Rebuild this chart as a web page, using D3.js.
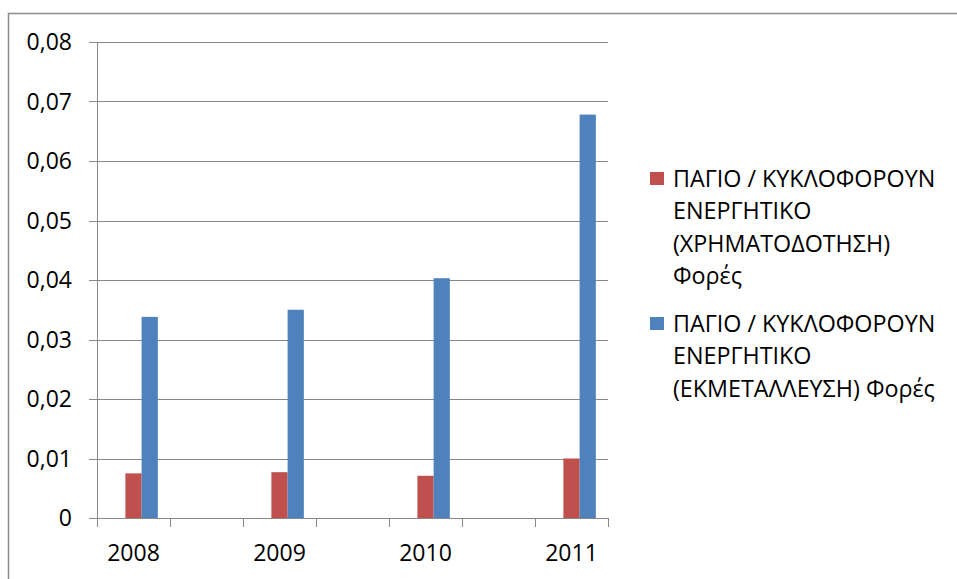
<!DOCTYPE html>
<html>
<head>
<meta charset="utf-8">
<script src="https://cdn.jsdelivr.net/npm/d3@7"></script>
<style>
  html, body { margin: 0; padding: 0; background: #fff; }
  svg { display: block; }
  text { font-family: "Open Sans", "Noto Sans", sans-serif; fill: #000; }
</style>
</head>
<body>
<svg id="chart" width="957" height="579"></svg>
<script>
// ---- data ----
const categories = ["2008", "", "2009", "", "2010", "", "2011"];
const seriesNames = [
  "ΠΑΓΙΟ / ΚΥΚΛΟΦΟΡΟΥΝ ΕΝΕΡΓΗΤΙΚΟ (ΧΡΗΜΑΤΟΔΟΤΗΣΗ) Φορές",
  "ΠΑΓΙΟ / ΚΥΚΛΟΦΟΡΟΥΝ ΕΝΕΡΓΗΤΙΚΟ (ΕΚΜΕΤΑΛΛΕΥΣΗ) Φορές"
];
const legendLines = [
  ["ΠΑΓΙΟ / ΚΥΚΛΟΦΟΡΟΥΝ", "ΕΝΕΡΓΗΤΙΚΟ", "(ΧΡΗΜΑΤΟΔΟΤΗΣΗ)", "Φορές"],
  ["ΠΑΓΙΟ / ΚΥΚΛΟΦΟΡΟΥΝ", "ΕΝΕΡΓΗΤΙΚΟ", "(ΕΚΜΕΤΑΛΛΕΥΣΗ) Φορές"]
];
// slot 0 is an empty series in the original chart
const seriesSlots = ["empty", "xrimatodotisi", "ekmetalleusi"];
const xrimatodotisi = [0.0075, null, 0.0077, null, 0.0071, null, 0.0100];
const ekmetalleusi  = [0.0338, null, 0.0350, null, 0.0403, null, 0.0678];
const yTicks = [0, 0.01, 0.02, 0.03, 0.04, 0.05, 0.06, 0.07, 0.08];
const colors = { xrimatodotisi: "#C0504D", ekmetalleusi: "#4F81BD" };

// ---- layout ----
const svg = d3.select("#chart");
const plot = { left: 97, right: 608, top: 42, bottom: 518 };
const gridColor = "#878787";

// outer chart border (top and left visible)
svg.append("path")
  .attr("d", "M8.5,579 L8.5,13.5 L957,13.5")
  .attr("fill", "none").attr("stroke", "#8c8c8c").attr("stroke-width", 1.5);

const x = d3.scaleBand().domain(d3.range(categories.length))
  .range([plot.left, plot.right]).paddingInner(0).paddingOuter(0);
const xInner = d3.scaleBand().domain(seriesSlots)
  .range([0, x.bandwidth()]).paddingInner(0).paddingOuter(0.75);
const y = d3.scaleLinear().domain([0, 0.08]).range([plot.bottom, plot.top]);

const fmt = v => d3.format(".2f")(v).replace(".", ",");

// gridlines + y tick marks
svg.append("g").selectAll("line").data(yTicks).join("line")
  .attr("x1", plot.left - 8).attr("x2", plot.right)
  .attr("y1", d => Math.round(y(d)) + 0.5).attr("y2", d => Math.round(y(d)) + 0.5)
  .attr("stroke", gridColor).attr("stroke-width", 1);

// y axis line
svg.append("line")
  .attr("x1", plot.left + 0.5).attr("x2", plot.left + 0.5)
  .attr("y1", plot.top).attr("y2", plot.bottom + 8)
  .attr("stroke", gridColor);

// x tick marks at band boundaries
const boundaries = d3.range(categories.length + 1).map(i => plot.left + i * x.step());
svg.append("g").selectAll("line").data(boundaries).join("line")
  .attr("x1", d => Math.round(d) + 0.5).attr("x2", d => Math.round(d) + 0.5)
  .attr("y1", plot.bottom).attr("y2", plot.bottom + 9)
  .attr("stroke", gridColor);

// y labels
svg.append("g").selectAll("text").data(yTicks).join("text")
  .attr("x", 72).attr("y", d => y(d))
  .attr("dy", "0.36em")
  .attr("text-anchor", "end")
  .attr("font-size", 23)
  .text(d => d === 0 ? "0" : fmt(d));

// x labels
svg.append("g").selectAll("text").data(categories.map((c, i) => ({ c, i })).filter(d => d.c))
  .join("text")
  .attr("x", d => x(d.i) + x.bandwidth() / 2)
  .attr("y", 561)
  .attr("text-anchor", "middle")
  .attr("font-size", 23)
  .text(d => d.c);

// bars
const seriesData = { xrimatodotisi, ekmetalleusi };
["xrimatodotisi", "ekmetalleusi"].forEach(key => {
  svg.append("g").selectAll("rect")
    .data(seriesData[key].map((v, i) => ({ v, i })).filter(d => d.v != null))
    .join("rect")
    .attr("x", d => x(d.i) + xInner(key))
    .attr("width", xInner.bandwidth())
    .attr("y", d => y(d.v))
    .attr("height", d => y(0) - y(d.v))
    .attr("fill", colors[key]);
});

// legend
const legendKeys = ["xrimatodotisi", "ekmetalleusi"];
const legendTop = [187, 332];
legendKeys.forEach((key, k) => {
  const g = svg.append("g");
  g.append("rect")
    .attr("x", 650).attr("y", legendTop[k] - 15)
    .attr("width", 14).attr("height", 13)
    .attr("fill", colors[key]);
  g.selectAll("text").data(legendLines[k]).join("text")
    .attr("x", 673)
    .attr("y", (d, i) => legendTop[k] + i * 32.3)
    .attr("font-size", 23.3)
    .text(d => d);
});
</script>
</body>
</html>
